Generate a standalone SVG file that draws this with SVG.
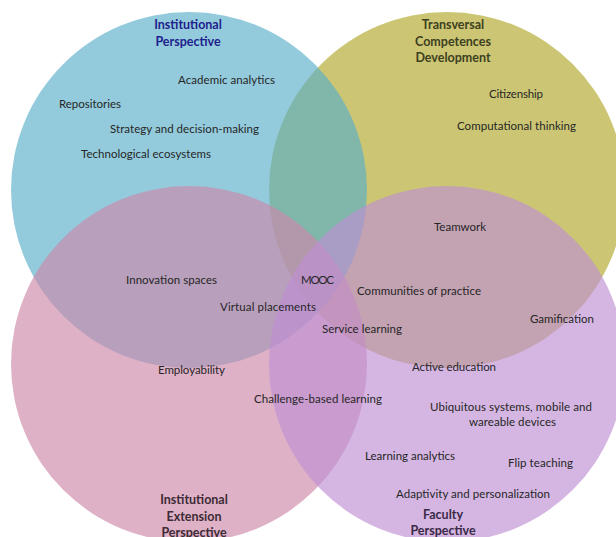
<svg xmlns="http://www.w3.org/2000/svg" width="616" height="537" viewBox="0 0 616 537">
<style>
.c{opacity:0.65}
text{font-family:Lato,"Open Sans","Liberation Sans",sans-serif;font-size:11.5px;fill:#262626}
.t{font-weight:bold;font-size:12.5px;text-anchor:middle}
</style>
<rect width="616" height="537" fill="#ffffff"/>
<g id="circles">
<circle id="transversal" class="c" cx="447" cy="190" r="178" fill="#B1A729"/>
<circle id="institutional" class="c" cx="189" cy="190" r="178" fill="#59AFC9"/>
<circle id="extension" class="c" cx="189" cy="364" r="178" fill="#CD87A9"/>
<circle id="faculty" class="c" cx="447" cy="364" r="178" fill="#BF8FD4"/>
</g>
<g id="titles">
<text class="t" x="188" y="29" style="fill:#1E1E8C">Institutional</text>
<text class="t" x="188" y="46" style="fill:#1E1E8C">Perspective</text>
<text class="t" x="453" y="29" style="fill:#3D4020">Transversal</text>
<text class="t" x="453" y="46" style="fill:#3D4020">Competences</text>
<text class="t" x="453" y="62" style="fill:#3D4020">Development</text>
<text class="t" x="194" y="504" style="fill:#3D2B35">Institutional</text>
<text class="t" x="194" y="521" style="fill:#3D2B35">Extension</text>
<text class="t" x="194" y="537" style="fill:#3D2B35">Perspective</text>
<text class="t" x="443" y="519" style="fill:#3B2A45">Faculty</text>
<text class="t" x="443" y="535" style="fill:#3B2A45">Perspective</text>
</g>
<g id="labels">
<text x="178" y="84" textLength="97">Academic analytics</text>
<text x="59" y="108" textLength="62">Repositories</text>
<text x="110" y="133" textLength="149">Strategy and decision-making</text>
<text x="81" y="158" textLength="130">Technological ecosystems</text>
<text x="489" y="98" textLength="54">Citizenship</text>
<text x="457" y="130" textLength="119">Computational thinking</text>
<text x="434" y="231" textLength="52">Teamwork</text>
<text x="126" y="284" textLength="91">Innovation spaces</text>
<text x="301" y="284" textLength="33">MOOC</text>
<text x="357" y="295" textLength="124">Communities of practice</text>
<text x="220" y="311" textLength="96">Virtual placements</text>
<text x="530" y="323" textLength="64">Gamification</text>
<text x="322" y="333" textLength="80">Service learning</text>
<text x="412" y="371" textLength="84">Active education</text>
<text x="158" y="374" textLength="67">Employability</text>
<text x="254" y="403" textLength="128">Challenge-based learning</text>
<text x="430" y="411" textLength="162">Ubiquitous systems, mobile and</text>
<text x="469" y="426" textLength="87">wareable devices</text>
<text x="365" y="460" textLength="90">Learning analytics</text>
<text x="508" y="467" textLength="65">Flip teaching</text>
<text x="396" y="498" textLength="154">Adaptivity and personalization</text>
</g>
</svg>
